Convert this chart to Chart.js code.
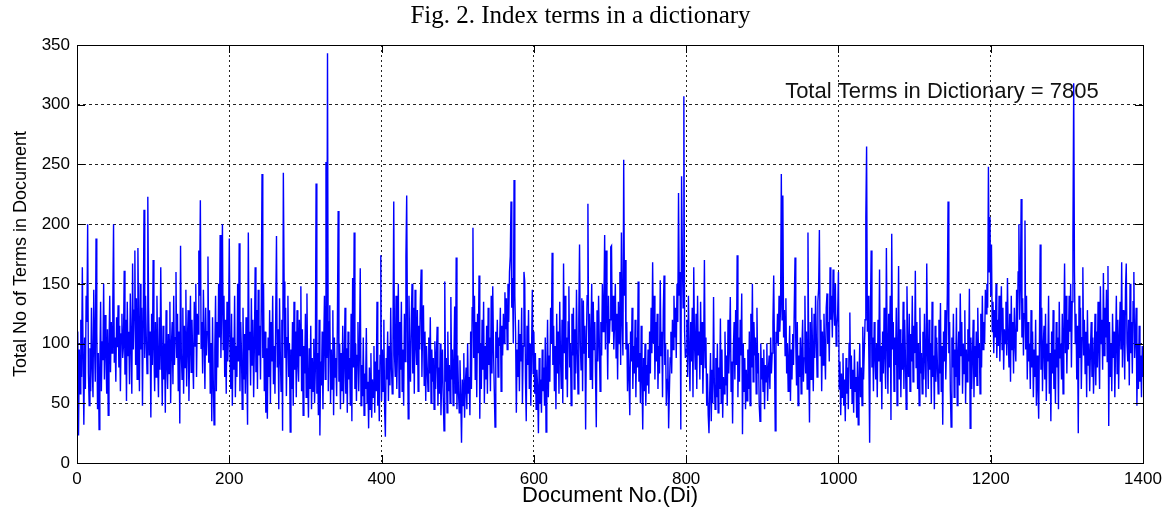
<!DOCTYPE html>
<html>
<head>
<meta charset="utf-8">
<script src="https://cdn.jsdelivr.net/npm/chart.js@4.4.1/dist/chart.umd.min.js"></script>
<style>
html,body{margin:0;padding:0;background:#fff;}
#wrap{width:1168px;height:509px;}
</style>
</head>
<body>
<div id="wrap"><canvas id="c" width="1168" height="509"></canvas></div>
<script>
// Number of index terms per document, documents 1..1400
const termCounts = [
110,23,95,58,120,72,164,88,32,105, 62,140,118,200,75,48,96,60,130,82,
55,145,100,68,188,110,45,92,28,78, 135,60,102,86,150,70,124,95,58,112,
40,98,140,76,118,92,130,200,84,105, 68,122,97,132,80,115,60,108,125,88,
98,161,74,120,52,135,90,110,66,142, 100,58,167,95,128,178,82,138,70,180,
112,60,150,95,130,48,118,212,88,140, 105,75,223,130,90,110,38,125,82,170,
95,60,118,72,140,86,55,122,78,164, 90,48,115,70,100,42,128,84,62,108,
75,135,50,98,118,66,140,82,105,160, 88,125,60,110,33,182,92,70,130,58,
115,80,145,64,102,128,52,95,140,76, 120,88,62,135,98,150,72,125,108,178,
140,220,96,118,75,145,105,62,130,90, 110,173,84,128,58,100,35,122,68,32,
95,140,60,118,80,150,105,191,88,130, 200,95,140,72,120,58,135,85,110,188,
90,62,125,48,105,78,140,55,98,72, 150,85,184,60,118,92,45,130,70,108,
58,122,80,32,193,95,110,65,138,82, 120,55,100,164,76,128,62,145,90,115,
70,135,242,88,150,60,110,42,96,37, 105,72,128,50,118,85,140,66,98,58,
125,190,80,112,45,138,92,60,120,27, 243,152,88,130,56,105,140,72,100,26,
95,62,118,48,135,78,110,55,128,84, 68,120,90,148,60,112,40,98,75,125,
55,142,70,38,96,62,115,45,88,60, 104,50,78,234,58,92,40,120,23,85,
65,110,45,98,140,70,252,88,343,60, 118,132,50,95,62,128,40,105,72,88,
56,120,211,68,100,45,92,60,115,50, 84,130,58,96,42,110,70,88,48,125,
35,155,80,193,62,100,52,90,118,60, 95,163,48,82,56,105,40,75,62,113,
50,68,29,80,45,92,38,70,55,98, 42,85,60,135,48,78,35,90,174,52,
95,60,120,45,22,88,70,110,52,98, 65,130,80,58,105,219,90,72,140,62,
100,150,55,118,78,135,60,95,48,125, 85,173,224,110,37,140,92,68,120,150,
75,130,58,145,100,82,128,60,115,95, 138,162,72,120,132,65,110,52,98,80,
60,105,75,122,50,95,68,88,45,102, 62,90,114,48,80,58,100,40,72,95,
55,27,152,68,88,42,110,60,82,50, 139,70,95,48,85,131,58,172,45,90,
60,42,86,55,17,70,48,92,38,65, 80,45,100,58,72,40,110,62,130,197,
88,140,70,118,55,125,92,157,37,100, 62,120,78,135,50,98,70,115,58,130,
82,105,60,140,75,148,95,62,30,110, 88,120,72,105,98,130,60,115,90,125,
100,143,112,138,95,150,118,160,173,219, 130,155,100,237,140,110,42,95,72,120,
60,108,85,130,50,98,160,152,70,35, 115,82,128,62,100,48,95,145,75,110,
58,92,45,78,62,25,88,50,70,42, 95,60,80,48,105,26,72,120,55,90,
68,130,100,176,82,115,60,98,45,125, 75,110,58,135,88,62,120,50,167,92,
140,70,105,55,118,148,80,100,48,125, 90,130,62,112,75,145,95,58,120,183,
100,78,138,60,136,92,115,28,105,140, 217,88,125,70,110,150,62,135,95,118,
72,30,128,85,140,100,60,118,90,150, 110,135,191,95,178,125,70,140,100,120,
181,182,110,140,95,117,150,88,125,70, 135,100,160,82,193,120,90,254,140,170,
95,118,60,100,72,40,110,85,130,62, 98,75,120,55,105,80,152,68,92,50,
115,72,28,88,60,100,48,82,65,95, 58,110,75,130,92,168,100,140,70,118,
85,125,62,98,75,153,90,110,55,128, 157,82,100,48,70,95,29,60,88,110,
75,120,95,140,105,130,88,150,118,226, 140,160,28,240,175,130,307,110,88,95,
120,72,140,95,60,118,85,130,55,164, 100,78,125,62,140,90,110,70,135,82,
118,58,95,170,80,105,48,75,40,25, 60,92,35,78,50,139,68,45,88,55,
100,42,80,62,121,50,95,38,72,58, 110,65,90,48,120,75,100,139,60,85,
33,95,118,70,128,82,174,55,105,68, 120,90,142,24,100,60,88,45,78,52,
95,62,110,48,125,80,150,68,118,90, 105,58,130,75,92,48,35,100,70,88,
60,95,45,82,68,100,52,78,90,62, 105,75,92,118,157,95,27,110,100,125,
98,140,110,130,242,120,224,105,128,90, 138,75,100,60,88,115,52,95,70,108,
82,130,172,100,65,118,48,90,72,105, 58,95,120,68,88,140,75,110,62,193,
85,34,118,70,130,95,60,125,88,140, 105,72,135,146,195,90,120,60,110,82,
125,95,70,130,142,100,118,85,164,120, 140,105,162,130,115,150,98,114,125,160,
62,85,40,75,55,92,48,70,35,88, 58,80,45,100,126,62,90,50,78,42,
95,60,72,38,85,32,68,100,55,80, 48,114,70,95,120,206,265,110,140,88,
17,125,178,80,105,60,118,92,70,100, 55,120,85,162,68,98,45,110,75,130,
90,62,180,100,58,125,80,140,36,192, 95,118,60,105,82,130,48,92,165,70,
112,55,100,78,135,62,120,88,45,148, 98,72,125,60,108,85,140,68,115,92,
161,80,118,62,100,48,130,75,92,58, 110,70,125,88,55,167,95,62,120,78,
100,50,135,72,90,45,115,68,105,82, 58,120,75,134,60,98,32,110,85,128,
70,100,140,219,92,118,60,30,105,80, 125,55,95,72,130,48,88,110,65,142,
90,118,58,100,75,128,50,95,68,112, 85,146,29,105,62,90,120,55,98,72,
110,65,130,88,100,58,125,80,140,95, 118,100,145,125,150,130,248,160,206,140,
183,110,135,92,128,105,150,88,120,98, 140,85,118,148,95,130,78,112,100,135,
90,155,105,80,125,68,140,95,118,75, 130,100,85,145,110,160,200,120,150,221,
105,138,90,125,203,95,140,70,118,85, 100,62,128,80,110,55,95,72,120,48,
90,65,37,105,183,78,130,60,98,115, 70,125,52,100,85,140,58,92,35,110,
75,128,62,95,50,118,80,105,45,135, 88,100,70,125,58,110,167,92,140,75,
120,95,140,110,150,80,135,190,318,160, 100,125,70,115,25,140,88,130,62,105,
164,90,120,75,110,55,128,82,100,60, 95,118,72,105,58,88,125,65,110,80,
135,95,62,148,100,120,78,159,90,130, 105,145,85,165,31,118,72,100,60,125,
88,110,55,98,140,75,120,62,105,135, 95,168,80,128,110,70,145,167,100,85,
120,65,150,92,118,75,135,160,88,105, 130,48,100,62,115,68,90,55,98,72
];
const xTicks = [0, 200, 400, 600, 800, 1000, 1200, 1400];
const yTicks = [0, 50, 100, 150, 200, 250, 300, 350];
const chartTitle = 'Fig. 2. Index terms in a dictionary';
const xTitle = 'Document No.(Di)';
const yTitle = 'Total No of Terms in Document';
const noteText = 'Total Terms in Dictionary = 7805';
const notePos = {x: 930, y: 311};

const points = termCounts.map((v, i) => ({x: i + 1, y: v}));

const boxPlugin = {
  id: 'boxAndNote',
  afterDraw(chart) {
    const {ctx, chartArea: a, scales} = chart;
    ctx.save();
    ctx.strokeStyle = '#000';
    ctx.lineWidth = 1;
    ctx.setLineDash([]);
    ctx.strokeRect(Math.round(a.left) + 0.5, Math.round(a.top) + 0.5, Math.round(a.right - a.left), Math.round(a.bottom - a.top));
    ctx.beginPath();
    xTicks.forEach(t => {
      const px = Math.round(scales.x.getPixelForValue(t)) + 0.5;
      ctx.moveTo(px, a.bottom); ctx.lineTo(px, a.bottom - 8);
      ctx.moveTo(px, a.top); ctx.lineTo(px, a.top + 8);
    });
    yTicks.forEach(t => {
      const py = Math.round(scales.y.getPixelForValue(t)) + 0.5;
      ctx.moveTo(a.left, py); ctx.lineTo(a.left + 8, py);
      ctx.moveTo(a.right, py); ctx.lineTo(a.right - 8, py);
    });
    ctx.stroke();
    // annotation inside the axes
    ctx.fillStyle = '#111';
    ctx.font = '22px "Liberation Sans", Arial, sans-serif';
    ctx.textAlign = 'left';
    ctx.textBaseline = 'middle';
    ctx.fillText(noteText, scales.x.getPixelForValue(notePos.x), scales.y.getPixelForValue(notePos.y));
    // figure caption above the axes
    ctx.fillStyle = '#000';
    ctx.font = '25px "Liberation Serif", "Times New Roman", serif';
    ctx.textAlign = 'center';
    ctx.textBaseline = 'middle';
    ctx.fillText(chartTitle, 580.5, 16);
    ctx.restore();
  }
};

new Chart(document.getElementById('c'), {
  type: 'line',
  data: {
    datasets: [{
      data: points,
      borderColor: '#0000ff',
      borderWidth: 1.4,
      pointRadius: 0,
      tension: 0,
      fill: false
    }]
  },
  plugins: [boxPlugin],
  options: {
    responsive: false,
    animation: false,
    devicePixelRatio: 1,
    layout: {padding: {left: 0, right: 25, top: 45, bottom: 0}},
    plugins: {
      legend: {display: false},
      tooltip: {enabled: false},
      title: {display: false}
    },
    scales: {
      x: {
        type: 'linear',
        min: 0, max: 1400,
        afterBuildTicks: s => { s.ticks = xTicks.map(v => ({value: v})); },
        afterFit: s => { s.height = 46; },
        ticks: {color: '#000', padding: 6, callback: v => String(v), font: {family: '"Liberation Sans", Arial, sans-serif', size: 17}},
        grid: {color: '#222', lineWidth: 1, drawTicks: false},
        border: {display: false, dash: [2, 3]},
        title: {display: true, text: xTitle, color: '#000', padding: {bottom: 0}, font: {family: '"Liberation Sans", Arial, sans-serif', size: 22}}
      },
      y: {
        min: 0, max: 350,
        afterBuildTicks: s => { s.ticks = yTicks.map(v => ({value: v})); },
        afterFit: s => { s.width = 77; },
        ticks: {color: '#000', padding: 7, callback: v => String(v), font: {family: '"Liberation Sans", Arial, sans-serif', size: 17}},
        grid: {color: '#222', lineWidth: 1, drawTicks: false},
        border: {display: false, dash: [3, 3]},
        title: {display: true, text: yTitle, color: '#000', padding: {top: 10}, font: {family: '"Liberation Sans", Arial, sans-serif', size: 18}}
      }
    }
  }
});
</script>
</body>
</html>
